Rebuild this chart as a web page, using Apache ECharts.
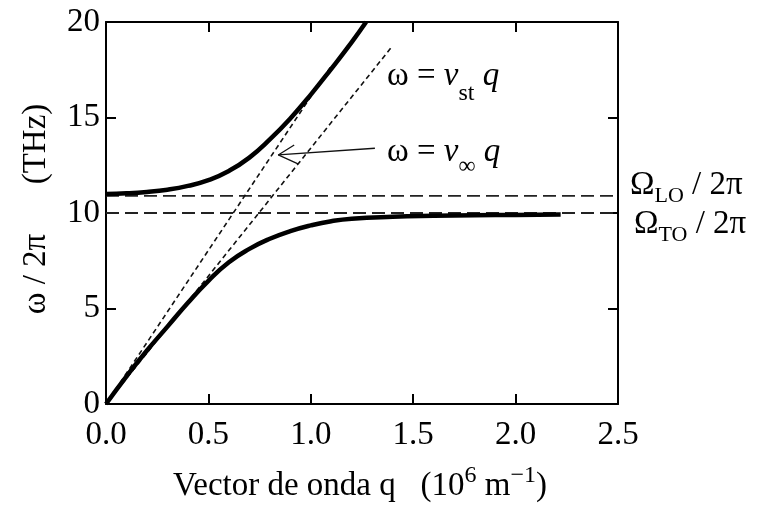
<!DOCTYPE html>
<html>
<head>
<meta charset="utf-8">
<script src="https://cdn.jsdelivr.net/npm/echarts@6/dist/echarts.min.js"></script>
<style>
  html, body { margin: 0; padding: 0; background: #fff; }
  #chart { width: 762px; height: 514px; }
</style>
</head>
<body>
<div id="chart"></div>
<script>
/* datos: q en 10^6 m^-1, omega/2pi en THz */
const qTicks = [0, 0.5, 1.0, 1.5, 2.0, 2.5];
const wTicks = [0, 5, 10, 15, 20];

const qUpper = [0, 0.1, 0.2, 0.3, 0.4, 0.5, 0.6, 0.7, 0.8, 0.9, 1.0, 1.1, 1.2, 1.27];
const wUpper = [11.0, 11.03, 11.1, 11.22, 11.42, 11.72, 12.2, 12.9, 13.85, 14.95, 16.2, 17.55, 18.95, 20.0];

const qLower = [0, 0.1, 0.2, 0.3, 0.4, 0.5, 0.6, 0.7, 0.8, 0.9, 1.0, 1.1, 1.2, 1.4, 1.6, 1.8, 2.0, 2.22];
const wLower = [0, 1.45, 2.8, 4.05, 5.3, 6.45, 7.42, 8.12, 8.65, 9.05, 9.35, 9.57, 9.7, 9.8, 9.85, 9.88, 9.9, 9.92];

const qInf = [0, 1.1];      /* omega = v_inf q */
const wInf = [0, 17.7];
const qSt = [0, 1.4];       /* omega = v_st q */
const wSt = [0, 18.76];

const omegaLO = 10.9;
const omegaTO = 10.0;

/* flecha que apunta a la recta v_inf */
const arrowQ = [1.313, 0.841];
const arrowW = [13.39, 13.04];
const armQ = [0.919, 0.841, 0.9375];
const armW = [13.56, 13.04, 12.57];

const SERIF = '"Liberation Serif", "Times New Roman", "DejaVu Serif", serif';
const pairs = (xs, ys) => xs.map((x, i) => [x, ys[i]]);

const axisBase = {
    type: 'value',
    splitLine: { show: false },
    axisLine: { show: true, onZero: false, lineStyle: { color: '#000', width: 2 } },
    axisTick: { show: true, inside: true, length: 10, lineStyle: { color: '#000', width: 2 } }
};

const option = {
    animation: false,
    backgroundColor: '#fff',
    grid: { left: 106, right: 144, top: 22, bottom: 110 },
    xAxis: [
        Object.assign({}, axisBase, {
            min: qTicks[0], max: qTicks[qTicks.length - 1], interval: 0.5, position: 'bottom',
            axisLabel: { margin: 15, color: '#000', fontFamily: SERIF, fontSize: 33, formatter: v => v.toFixed(1) }
        }),
        Object.assign({}, axisBase, {
            min: qTicks[0], max: qTicks[qTicks.length - 1], interval: 0.5, position: 'top',
            axisLabel: { show: false }
        })
    ],
    yAxis: [
        Object.assign({}, axisBase, {
            min: wTicks[0], max: wTicks[wTicks.length - 1], interval: 5, position: 'left',
            axisLabel: { margin: 6, color: '#000', fontFamily: SERIF, fontSize: 33 }
        }),
        Object.assign({}, axisBase, {
            min: wTicks[0], max: wTicks[wTicks.length - 1], interval: 5, position: 'right',
            axisLabel: { show: false }
        })
    ],
    series: [
        {
            type: 'line', name: 'LO', showSymbol: false, silent: true,
            data: [[0, omegaLO], [2.5, omegaLO]],
            lineStyle: { color: '#222', width: 1.8, type: [13, 6] }
        },
        {
            type: 'line', name: 'TO', showSymbol: false, silent: true,
            data: [[0, omegaTO], [2.5, omegaTO]],
            lineStyle: { color: '#222', width: 1.8, type: [13, 6] }
        },
        {
            type: 'line', name: 'vinf', showSymbol: false, silent: true,
            data: pairs(qInf, wInf),
            lineStyle: { color: '#111', width: 1.6, type: [5, 3.5] }
        },
        {
            type: 'line', name: 'vst', showSymbol: false, silent: true,
            data: pairs(qSt, wSt),
            lineStyle: { color: '#111', width: 1.6, type: [5, 3.5] }
        },
        {
            type: 'line', name: 'upper', showSymbol: false, smooth: true, silent: true,
            data: pairs(qUpper, wUpper),
            lineStyle: { color: '#000', width: 4.5 }
        },
        {
            type: 'line', name: 'lower', showSymbol: false, smooth: true, silent: true,
            data: pairs(qLower, wLower),
            lineStyle: { color: '#000', width: 4.5 }
        },
        {
            type: 'line', name: 'arrow', showSymbol: false, silent: true,
            data: pairs(arrowQ, arrowW),
            lineStyle: { color: '#111', width: 1.3 }
        },
        {
            type: 'line', name: 'arrowhead', showSymbol: false, silent: true,
            data: pairs(armQ, armW),
            lineStyle: { color: '#111', width: 1.3 }
        }
    ],
    graphic: [
        /* titulo eje y */
        {
            type: 'text', x: 36, y: 209, rotation: Math.PI / 2,
            style: {
                text: 'ω / 2π      (THz)', fill: '#000', font: '33px ' + SERIF,
                align: 'center', verticalAlign: 'middle'
            }
        },
        /* titulo eje x */
        {
            type: 'text', x: 360, y: 486,
            style: {
                text: '{n|Vector de onda q   (10}{p|6}{n| m}{p|−1}{n|)}',
                align: 'center', verticalAlign: 'middle',
                rich: {
                    n: { fill: '#000', fontFamily: SERIF, fontSize: 33, lineHeight: 44 },
                    p: { fill: '#000', fontFamily: SERIF, fontSize: 24, lineHeight: 24, verticalAlign: 'top' }
                }
            }
        },
        /* omega = v_st q */
        {
            type: 'text', x: 387, y: 76,
            style: {
                text: '{n|ω = }{i|v}{s|st}{i| q}',
                align: 'left', verticalAlign: 'middle',
                rich: {
                    n: { fill: '#000', fontFamily: SERIF, fontSize: 33, lineHeight: 60 },
                    i: { fill: '#000', fontFamily: SERIF, fontSize: 33, fontStyle: 'italic', lineHeight: 60 },
                    s: { fill: '#000', fontFamily: SERIF, fontSize: 24, lineHeight: 24, verticalAlign: 'bottom' }
                }
            }
        },
        /* omega = v_inf q */
        {
            type: 'text', x: 387, y: 152,
            style: {
                text: '{n|ω = }{i|v}{s|∞}{i| q}',
                align: 'left', verticalAlign: 'middle',
                rich: {
                    n: { fill: '#000', fontFamily: SERIF, fontSize: 33, lineHeight: 54 },
                    i: { fill: '#000', fontFamily: SERIF, fontSize: 33, fontStyle: 'italic', lineHeight: 54 },
                    s: { fill: '#000', fontFamily: SERIF, fontSize: 24, lineHeight: 24, verticalAlign: 'bottom' }
                }
            }
        },
        /* Omega_LO / 2pi */
        {
            type: 'text', x: 630, y: 185,
            style: {
                text: '{n|Ω}{s|LO}{n| / 2π}',
                align: 'left', verticalAlign: 'middle',
                rich: {
                    n: { fill: '#000', fontFamily: SERIF, fontSize: 33, lineHeight: 44 },
                    s: { fill: '#000', fontFamily: SERIF, fontSize: 22, lineHeight: 22, verticalAlign: 'bottom' }
                }
            }
        },
        /* Omega_TO / 2pi */
        {
            type: 'text', x: 634, y: 224,
            style: {
                text: '{n|Ω}{s|TO}{n| / 2π}',
                align: 'left', verticalAlign: 'middle',
                rich: {
                    n: { fill: '#000', fontFamily: SERIF, fontSize: 33, lineHeight: 44 },
                    s: { fill: '#000', fontFamily: SERIF, fontSize: 22, lineHeight: 22, verticalAlign: 'bottom' }
                }
            }
        }
    ]
};

const myChart = echarts.init(document.getElementById('chart'), null, { renderer: 'canvas' });
myChart.setOption(option);
</script>
</body>
</html>
